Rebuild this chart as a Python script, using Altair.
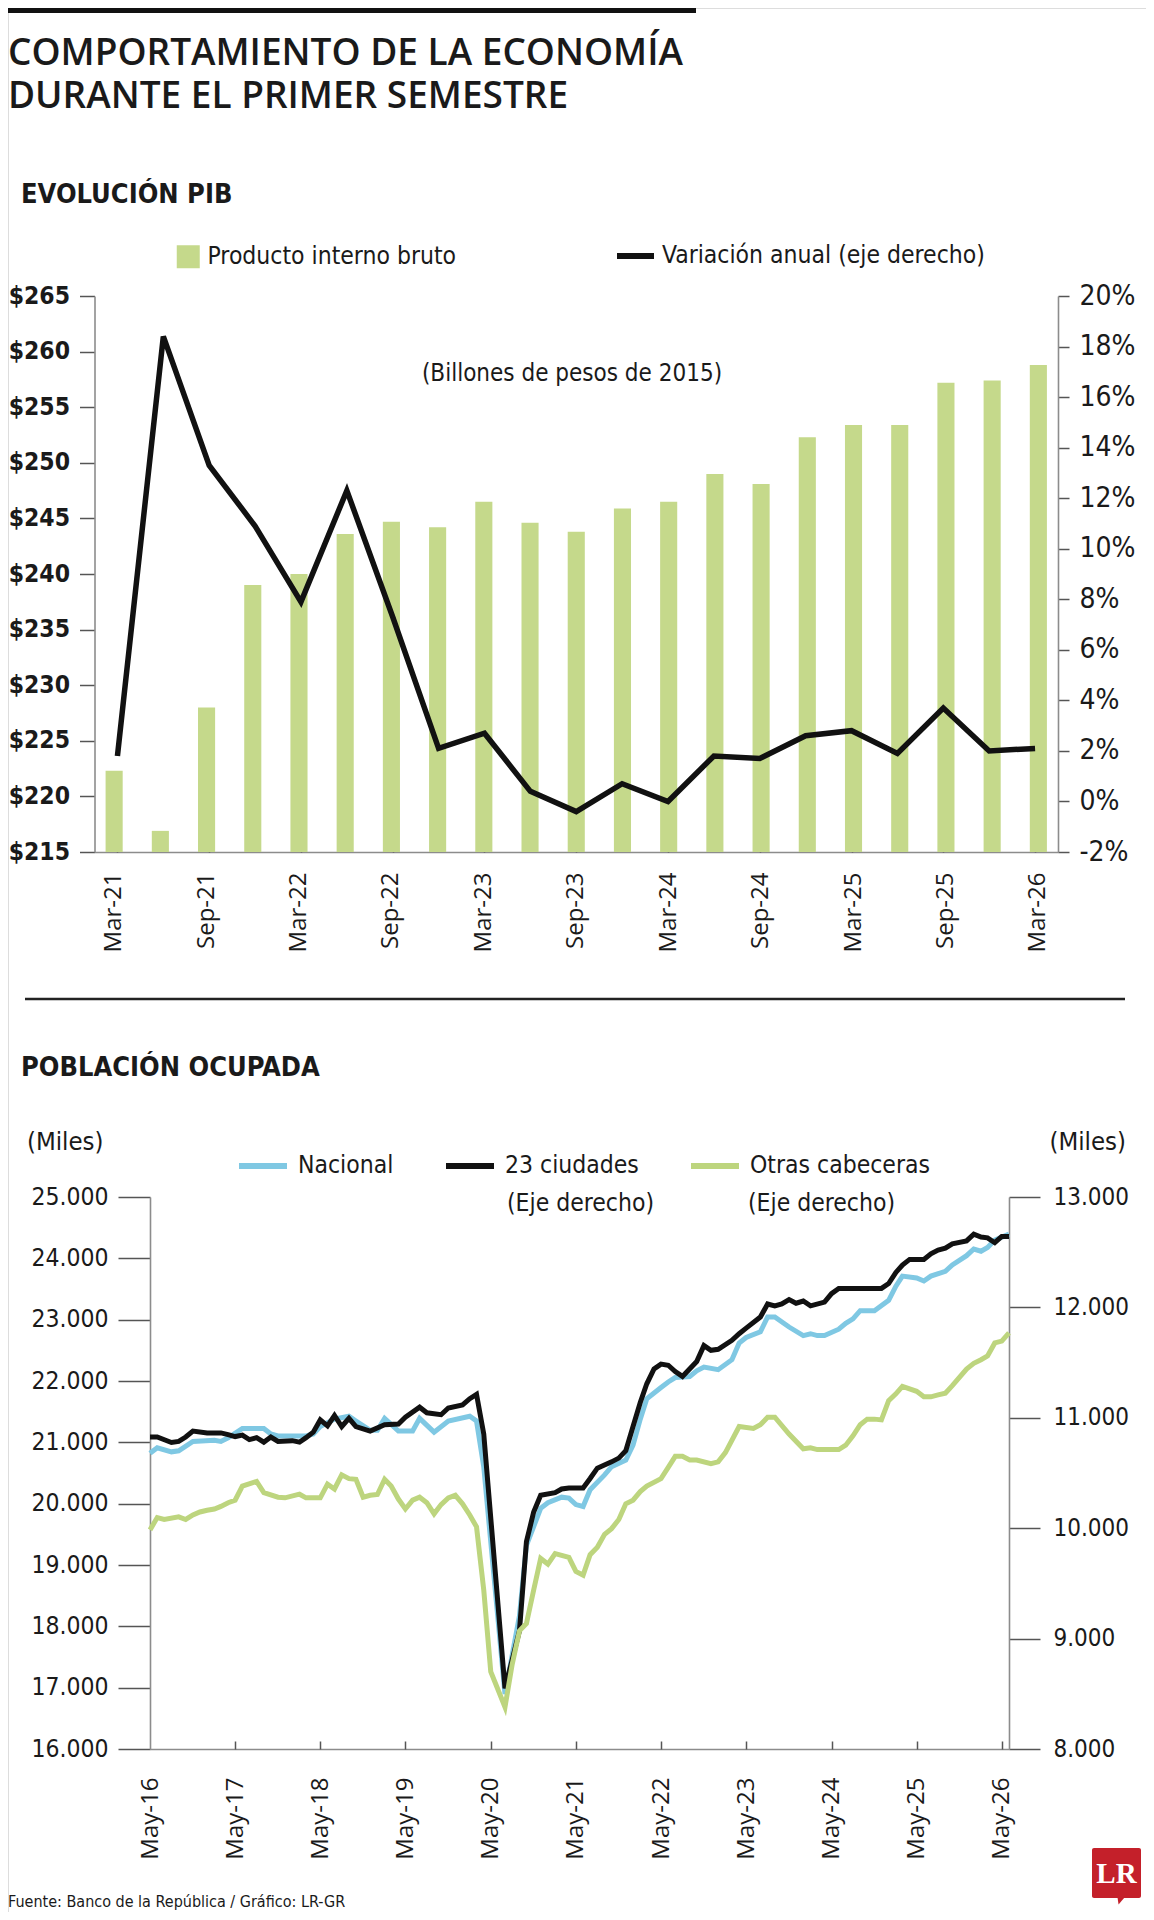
import altair as alt
import pandas as pd

# ---------------- Evolución PIB (trimestral) ----------------
trimestres = ["Mar-21", "Jun-21", "Sep-21", "Dec-21", "Mar-22", "Jun-22", "Sep-22",
              "Dec-22", "Mar-23", "Jun-23", "Sep-23", "Dec-23", "Mar-24", "Jun-24",
              "Sep-24", "Dec-24", "Mar-25", "Jun-25", "Sep-25", "Dec-25", "Mar-26"]
pib = [222.3, 216.9, 228.0, 239.0, 240.0, 243.6, 244.7, 244.2, 246.5, 244.6, 243.8,
       245.9, 246.5, 249.0, 248.1, 252.3, 253.4, 253.4, 257.2, 257.4, 258.8]
variacion = [1.8, 18.4, 13.3, 10.9, 7.9, 12.3, 7.3, 2.1, 2.7, 0.4, -0.4,
             0.7, 0.0, 1.8, 1.7, 2.6, 2.8, 1.9, 3.7, 2.0, 2.1]
trimestres_marca = ["Mar-21", "Sep-21", "Mar-22", "Sep-22", "Mar-23", "Sep-23",
                    "Mar-24", "Sep-24", "Mar-25", "Sep-25", "Mar-26"]

# ---------------- Población ocupada (meses desde may-16) ----------------
nacional_mes = [0, 1, 3, 4, 6, 9, 10, 11, 13, 16, 17, 18, 20, 22, 23, 24, 26, 28, 29, 31,
                32, 33, 35, 37, 38, 40, 42, 45, 46, 47, 50, 52, 53, 55, 56, 58, 59, 60, 61, 62,
                64, 65, 67, 68, 69, 70, 72, 73, 74, 76, 77, 78, 80, 82, 83, 84, 86, 87, 88, 90,
                92, 93, 94, 95, 97, 98, 99, 100, 102, 104, 105, 106, 108, 109, 110, 112, 113, 115, 116, 117,
                118, 119, 121]
nacional = [20821, 20912, 20845, 20863, 21015, 21033, 21015, 21075, 21226, 21226,
            21136, 21105, 21105, 21105, 21136, 21257, 21378, 21426, 21348, 21196,
            21196, 21390, 21184, 21184, 21390, 21166, 21348, 21426, 21348, 20600,
            16896, 18168, 19319, 19924, 20015, 20106, 20090, 19985, 19955, 20227,
            20469, 20603, 20712, 20954, 21378, 21711, 21893, 21984, 22056, 22074,
            22165, 22226, 22184, 22347, 22620, 22710, 22801, 23044, 23044, 22880,
            22741, 22771, 22741, 22741, 22844, 22941, 23013, 23147, 23147, 23316,
            23546, 23710, 23680, 23631, 23710, 23789, 23892, 24043, 24152, 24116,
            24176, 24297, 24394]

ciudades_mes = [0, 1, 3, 4, 5, 6, 8, 10, 11, 12, 13, 14, 15, 16, 17, 18, 20, 21, 22, 23,
                24, 25, 26, 27, 28, 29, 31, 33, 35, 36, 38, 39, 41, 42, 44, 45, 46, 47, 50, 52,
                53, 54, 55, 57, 58, 59, 61, 62, 63, 65, 66, 67, 68, 69, 70, 71, 72, 73, 74, 75,
                77, 78, 79, 80, 82, 83, 84, 86, 87, 88, 89, 90, 91, 92, 93, 95, 96, 97, 99, 103,
                104, 105, 106, 107, 109, 110, 111, 112, 113, 115, 116, 117, 118, 119, 120, 121]
ciudades = [10826, 10826, 10776, 10786, 10826, 10880, 10863, 10863, 10847, 10830,
            10843, 10803, 10820, 10779, 10826, 10786, 10793, 10779, 10820, 10870,
            10981, 10927, 11021, 10921, 10995, 10921, 10880, 10937, 10944, 11005,
            11096, 11045, 11028, 11089, 11116, 11173, 11213, 10853, 8549, 9070,
            9878, 10147, 10298, 10322, 10355, 10365, 10365, 10450, 10544, 10601,
            10635, 10702, 10921, 11139, 11308, 11442, 11486, 11476, 11419, 11375,
            11510, 11654, 11611, 11621, 11702, 11762, 11812, 11913, 12031, 12014,
            12031, 12071, 12038, 12058, 12014, 12048, 12125, 12172, 12172, 12172,
            12216, 12317, 12384, 12435, 12435, 12485, 12519, 12536, 12576, 12603,
            12664, 12637, 12630, 12586, 12643, 12643]

otras_mes = [0, 1, 2, 4, 5, 6, 7, 8, 9, 10, 11, 12, 13, 15, 16, 18, 19, 21, 22, 24,
             25, 26, 27, 28, 29, 30, 31, 32, 33, 34, 35, 36, 37, 38, 39, 40, 41, 42, 43, 44,
             45, 46, 47, 48, 50, 51, 52, 53, 54, 55, 56, 57, 59, 60, 61, 62, 63, 64, 65, 66,
             67, 68, 69, 70, 72, 73, 74, 75, 76, 77, 79, 80, 81, 83, 85, 86, 87, 88, 90, 92,
             93, 94, 97, 98, 99, 100, 101, 102, 103, 104, 105, 106, 108, 109, 110, 111, 112, 113, 115, 116,
             117, 118, 119, 120, 121]
otras = [9985, 10096, 10079, 10103, 10079, 10120, 10147, 10163, 10174, 10197,
         10231, 10254, 10382, 10423, 10322, 10281, 10275, 10308, 10275, 10275,
         10399, 10355, 10483, 10449, 10443, 10281, 10298, 10305, 10443, 10382,
         10264, 10174, 10254, 10281, 10231, 10130, 10214, 10275, 10298, 10221,
         10120, 10012, 9440, 8700, 8380, 8769, 9070, 9137, 9440, 9726,
         9675, 9770, 9736, 9608, 9575, 9760, 9827, 9945, 9996, 10079,
         10221, 10254, 10332, 10382, 10449, 10550, 10651, 10651, 10618, 10618,
         10584, 10601, 10685, 10921, 10904, 10937, 11005, 11005, 10853, 10719,
         10729, 10712, 10712, 10752, 10836, 10937, 10988, 10988, 10981, 11156,
         11217, 11284, 11240, 11190, 11190, 11207, 11223, 11291, 11442, 11493,
         11526, 11560, 11678, 11695, 11769]

anios_eje = list(range(2016, 2027))
titulo = ["COMPORTAMIENTO DE LA ECONOMÍA", "DURANTE EL PRIMER SEMESTRE"]

# ---------------- estilos ----------------
W, H = 1138, 1904
TOP_X0, TOP_X1, TOP_Y0, TOP_Y1 = 86.5, 1050, 844, 288
BOT_X0, BOT_X1, BOT_Y0, BOT_Y1 = 142, 1001, 1741, 1189

COND = "Liberation Sans Narrow, DejaVu Sans Condensed, Arial Narrow, sans-serif"
SANS = "Open Sans, Noto Sans, sans-serif"
INK = "#1a1a1a"
VERDE = "#c5d98b"
VERDE_LINEA = "#bdd57e"
AZUL = "#7fc8e3"
NEGRO = "#111111"
EJE = "#8c8c8c"
MILES = "replace(format(datum.value, ','), ',', '.')"


def fechas(meses):
    base = pd.Timestamp("2016-05-01")
    return [(base + pd.DateOffset(months=m)).strftime("%Y-%m-%d") for m in meses]


pib_df = pd.DataFrame({"trim": trimestres, "pib": pib, "var": variacion,
                       "barra": "Producto interno bruto",
                       "linea": "Variación anual (eje derecho)"})

nac_df = pd.DataFrame({"fecha": fechas(nacional_mes), "valor": nacional, "serie": "Nacional"})
der_df = pd.concat([
    pd.DataFrame({"fecha": fechas(ciudades_mes), "valor": ciudades, "serie": "23 ciudades"}),
    pd.DataFrame({"fecha": fechas(otras_mes), "valor": otras, "serie": "Otras cabeceras"}),
])

x_top = alt.Scale(domain=trimestres, range=[TOP_X0, TOP_X1], paddingInner=0.63, paddingOuter=0.24)
x_bot = alt.Scale(type="utc",
                  domain=[alt.DateTime(year=2016, month=5, date=1, utc=True),
                          alt.DateTime(year=2026, month=6, date=1, utc=True)],
                  range=[BOT_X0, BOT_X1])
mayos = [alt.DateTime(year=a, month=5, date=1, utc=True) for a in anios_eje]

eje = dict(title=None, grid=False, domainColor=EJE, domainWidth=1.6,
           tickColor="#555555", tickWidth=1.5, labelColor=INK)

# ---------------- PIB ----------------
barras = alt.Chart(pib_df).mark_bar().encode(
    x=alt.X("trim:N", scale=x_top,
            axis=alt.Axis(orient="bottom", offset=TOP_Y0 - H, labelAngle=270, ticks=False,
                          labelExpr="indexof(['Jun','Dec'], slice(datum.label,0,3)) >= 0 ? '' : datum.label",
                          labelFont=SANS, labelFontSize=24, labelPadding=20, **eje)),
    y=alt.Y("pib:Q", scale=alt.Scale(domain=[215, 265], range=[TOP_Y0, TOP_Y1], zero=False, nice=False),
            axis=alt.Axis(orient="left", offset=-TOP_X0, values=list(range(215, 266, 5)),
                          labelExpr="'$' + datum.value", labelFont=COND, labelFontWeight="bold",
                          labelFontSize=24.5, tickSize=15, labelPadding=10, **eje)),
    y2=alt.datum(215),
    fill=alt.Fill("barra:N", scale=alt.Scale(range=[VERDE]),
                  legend=alt.Legend(orient="none", legendX=168, legendY=236.5, title=None,
                                    symbolType="square", symbolSize=529, symbolStrokeWidth=0,
                                    labelFont=COND, labelFontSize=24.5, labelColor=INK,
                                    labelOffset=7, labelLimit=600, padding=0)),
)

linea = alt.Chart(pib_df).mark_line(strokeWidth=5.5).encode(
    x=alt.X("trim:N", scale=x_top,
            axis=alt.Axis(orient="top", offset=-TOP_Y0, values=trimestres_marca, bandPosition=0,
                          labels=False, domain=False, tickSize=7, title=None, grid=False,
                          tickColor="#555555", tickWidth=1.5)),
    y=alt.Y("var:Q", scale=alt.Scale(domain=[-2, 20], range=[TOP_Y0, TOP_Y1], zero=False, nice=False),
            axis=alt.Axis(orient="right", offset=TOP_X1 - W, values=list(range(-2, 21, 2)),
                          labelExpr="datum.value + '%'", labelFont=COND, labelFontSize=28,
                          tickSize=11, labelPadding=10, **eje)),
    stroke=alt.Stroke("linea:N", scale=alt.Scale(range=[NEGRO]),
                      legend=alt.Legend(orient="none", legendX=606, legendY=226.5, title=None,
                                        symbolType="stroke", symbolSize=1369, symbolStrokeWidth=6,
                                        labelFont=COND, labelFontSize=24.5, labelColor=INK,
                                        labelOffset=5, labelLimit=600, padding=0)),
)

# ---------------- Población ocupada ----------------
color = alt.Scale(domain=["Nacional", "23 ciudades", "Otras cabeceras"],
                  range=[AZUL, NEGRO, VERDE_LINEA])
leyenda = alt.Legend(orient="none", legendX=228, legendY=1131, title=None, direction="horizontal",
                     symbolType="stroke", symbolSize=2304, symbolStrokeWidth=6,
                     labelFont=COND, labelFontSize=24.5, labelColor=INK, labelOffset=8,
                     columnPadding=40, labelLimit=600, padding=0)

nac = alt.Chart(nac_df).mark_line(strokeWidth=5).encode(
    x=alt.X("fecha:T", scale=x_bot,
            axis=alt.Axis(orient="bottom", offset=BOT_Y0 - H, values=mayos,
                          labelExpr="utcFormat(datum.value, '%b') + '-' + utcFormat(datum.value, '%y')",
                          labelAngle=270, ticks=False, labelFont=SANS, labelLimit=400,
                          labelFontSize=24, labelPadding=28, labelFlush=False, **eje)),
    y=alt.Y("valor:Q", scale=alt.Scale(domain=[16000, 25000], range=[BOT_Y0, BOT_Y1], zero=False, nice=False),
            axis=alt.Axis(orient="left", offset=-BOT_X0, values=list(range(16000, 25001, 1000)),
                          labelExpr=MILES, labelFont=COND, labelFontSize=24.5, tickSize=32,
                          labelPadding=10, **eje)),
    color=alt.Color("serie:N", scale=color, legend=leyenda),
)

der = alt.Chart(der_df).mark_line(strokeWidth=5).encode(
    x=alt.X("fecha:T", scale=x_bot,
            axis=alt.Axis(orient="top", offset=-BOT_Y0, values=mayos[1:], labels=False, domain=False,
                          tickSize=8, title=None, grid=False, tickColor="#555555", tickWidth=1.5)),
    y=alt.Y("valor:Q", scale=alt.Scale(domain=[8000, 13000], range=[BOT_Y0, BOT_Y1], zero=False, nice=False),
            axis=alt.Axis(orient="right", offset=BOT_X1 - W, values=list(range(8000, 13001, 1000)),
                          labelExpr=MILES, labelFont=COND, labelFontSize=24, tickSize=31,
                          labelPadding=13, **eje)),
    color=alt.Color("serie:N", scale=color, legend=leyenda),
)


# ---------------- textos y adornos ----------------
def texto(t, x, y, size, font=COND, weight="normal", align="left", baseline="alphabetic", col=INK):
    return alt.Chart(pd.DataFrame({"t": [t]})).mark_text(
        align=align, baseline=baseline, font=font, fontSize=size, fontWeight=weight, color=col
    ).encode(text="t:N", x=alt.value(x), y=alt.value(y))


def regla(x0, x1, y, grosor, col=NEGRO):
    return alt.Chart(pd.DataFrame({"a": [0]})).mark_rule(color=col, strokeWidth=grosor).encode(
        x=alt.value(x0), x2=alt.value(x1), y=alt.value(y))


cabecera = alt.Chart(pd.DataFrame({"a": [0]})).mark_text(
    text=titulo, align="left", baseline="alphabetic", font=SANS, fontSize=37, fontWeight=600,
    lineHeight=43, color=INK
).encode(x=alt.value(0), y=alt.value(57))

textos = [
    regla(0, 688, 2.5, 5),
    cabecera,
    texto("EVOLUCIÓN PIB", 13, 195, 27, weight="bold"),
    texto("(Billones de pesos de 2015)", 564, 366, 24, align="center", baseline="middle"),
    regla(17, 1117, 991, 2.5, col="#222222"),
    texto("POBLACIÓN OCUPADA", 13, 1068, 27, weight="bold"),
    texto("(Miles)", 19, 1134, 25.5, baseline="middle"),
    texto("(Miles)", 1118, 1134, 25.5, align="right", baseline="middle"),
    texto("(Eje derecho)", 499, 1196, 24.5, baseline="middle"),
    texto("(Eje derecho)", 740, 1196, 24.5, baseline="middle"),
    texto("Fuente: Banco de la República / Gráfico: LR-GR", 0, 1894, 16, baseline="middle"),
]

logo = [
    alt.Chart(pd.DataFrame({"a": [0]})).mark_rect(color="#c4202a", cornerRadius=2).encode(
        x=alt.value(1084), x2=alt.value(1133), y=alt.value(1840), y2=alt.value(1890)),
    alt.Chart(pd.DataFrame({"a": [0]})).mark_point(
        shape="M -0.5 -0.5 L 0.5 -0.5 L -0.35 0.5 Z", size=196, filled=True, opacity=1,
        color="#c4202a").encode(x=alt.value(1113), y=alt.value(1893)),
    texto("LR", 1108.5, 1866, 29, font="Liberation Serif, DejaVu Serif, serif", weight="bold",
          align="center", baseline="middle", col="#ffffff"),
]

chart = alt.layer(barras, linea, nac, der, *textos, *logo).resolve_scale(
    x="independent", y="independent"
).properties(
    width=W, height=H, padding=0, autosize=alt.AutoSizeParams(type="none")
).configure_view(stroke=None).configure(background="white")

chart.save("out.html", embed_options={"renderer": "svg", "actions": False})
